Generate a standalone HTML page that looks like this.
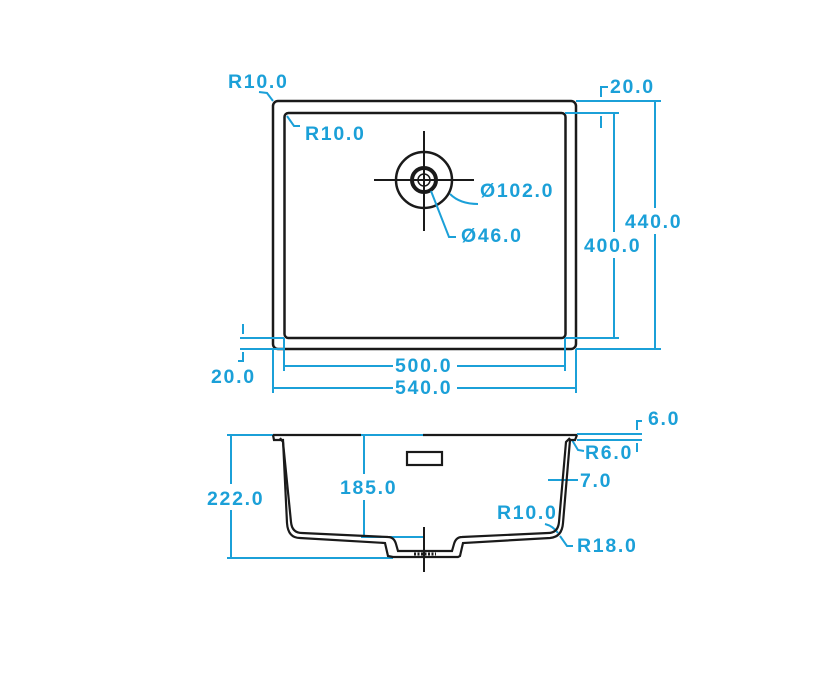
<!DOCTYPE html>
<html><head><meta charset="utf-8"><style>
html,body{margin:0;padding:0;background:#fff;width:827px;height:693px;overflow:hidden}
svg text{font-family:"Liberation Sans",sans-serif;font-weight:bold;font-size:19.5px;letter-spacing:1.7px;fill:#1ba0d8}
</style></head><body>
<svg width="827" height="693" viewBox="0 0 827 693" xmlns="http://www.w3.org/2000/svg">
<g fill="none" stroke="#1a1a1a" stroke-width="2.5">
<rect x="273" y="101" width="303" height="248" rx="5"/>
<rect x="284.5" y="113" width="281" height="225" rx="4"/>
<circle cx="424" cy="180" r="28"/>
<circle cx="424" cy="180" r="12" stroke-width="4"/>
<circle cx="424" cy="180" r="6" stroke-width="1.5"/>
</g>
<g stroke="#1a1a1a" stroke-width="2">
<line x1="374" y1="180" x2="474" y2="180"/>
<line x1="424" y1="131" x2="424" y2="231"/>
</g>
<g fill="none" stroke="#1ba0d8" stroke-width="2">
<line x1="576" y1="101" x2="661" y2="101"/><line x1="576" y1="349" x2="661" y2="349"/>
<line x1="655" y1="101" x2="655" y2="208"/><line x1="655" y1="234" x2="655" y2="349"/>
<line x1="565" y1="113" x2="619" y2="113"/><line x1="565" y1="338" x2="619" y2="338"/>
<line x1="614" y1="113" x2="614" y2="232"/><line x1="614" y1="258" x2="614" y2="338"/>
<polyline points="608,87 601,87 601,97"/><line x1="601" y1="116" x2="601" y2="128"/>
<line x1="284" y1="338" x2="284" y2="371"/><line x1="565" y1="338" x2="565" y2="371"/>
<line x1="273" y1="349" x2="273" y2="393"/><line x1="576" y1="349" x2="576" y2="393"/>
<line x1="284" y1="366" x2="393" y2="366"/><line x1="457" y1="366" x2="565" y2="366"/>
<line x1="273" y1="388" x2="393" y2="388"/><line x1="457" y1="388" x2="576" y2="388"/>
<line x1="240" y1="338" x2="284" y2="338"/><line x1="240" y1="349" x2="284" y2="349"/>
<line x1="243" y1="324" x2="243" y2="334"/><polyline points="243,352 243,361 238,361"/>
<polyline points="259,92 267,93 273,101"/>
<polyline points="287,116 294,126 300,126"/>
<path d="M450,194 Q460,204 478,204"/>
<polyline points="431,191 449,237 456,237"/>
<line x1="227" y1="435" x2="273" y2="435"/><line x1="227" y1="558" x2="393" y2="558"/>
<line x1="231" y1="435" x2="231" y2="484"/><line x1="231" y1="510" x2="231" y2="558"/>
<line x1="361" y1="435" x2="423" y2="435"/>
<line x1="364" y1="435" x2="364" y2="474"/><line x1="364" y1="500" x2="364" y2="537"/>
<line x1="361" y1="537" x2="424" y2="537"/>
<line x1="577" y1="434" x2="642" y2="434"/><line x1="577" y1="440" x2="642" y2="440"/>
<polyline points="642,421 637,421 637,430"/><line x1="637" y1="443" x2="637" y2="452"/>
<polyline points="572,440 578,450 584,451"/>
<line x1="548" y1="480" x2="578" y2="480"/>
<path d="M545,524 Q553,526 558,533"/>
<polyline points="560,536 567,546 573,546"/>
</g>
<g fill="none" stroke="#1a1a1a" stroke-width="2.2">
<line x1="273" y1="435" x2="361" y2="435"/><line x1="423" y1="435" x2="577" y2="435"/>
<path d="M273,435 L274,440 L279,440 L283,440 L287,523 Q288,538 300,538 L385,543 L388,556 L393,557 L458,557 L460,556 L463,543 L550,538 Q562,537 563,523 L570,440 L575,440 L577,435"/>
<path d="M280,438 L283,442 L291,522 Q292,533 302,533 L388,537 Q394,537 396,544 L398,551 L452,551 L454,544 Q456,537 462,537 L548,533 Q558,533 559,522 L566,442 L570,438"/>
<rect x="407" y="452" width="35" height="13"/>
</g>
<line x1="424" y1="527" x2="424" y2="572" stroke="#1a1a1a" stroke-width="2"/>
<line x1="414" y1="554" x2="436" y2="554" stroke="#1a1a1a" stroke-width="3" stroke-dasharray="2,1.5"/>
<text x="228" y="88">R10.0</text>
<text x="305" y="140">R10.0</text>
<text x="480" y="197">Ø102.0</text>
<text x="461" y="242">Ø46.0</text>
<text x="610" y="93">20.0</text>
<text x="625" y="228">440.0</text>
<text x="584" y="252">400.0</text>
<text x="211" y="383">20.0</text>
<text x="395" y="372">500.0</text>
<text x="395" y="394">540.0</text>
<text x="207" y="505">222.0</text>
<text x="340" y="494">185.0</text>
<text x="648" y="425">6.0</text>
<text x="585" y="459">R6.0</text>
<text x="580" y="487">7.0</text>
<text x="497" y="519">R10.0</text>
<text x="577" y="552">R18.0</text>
</svg>
</body></html>
